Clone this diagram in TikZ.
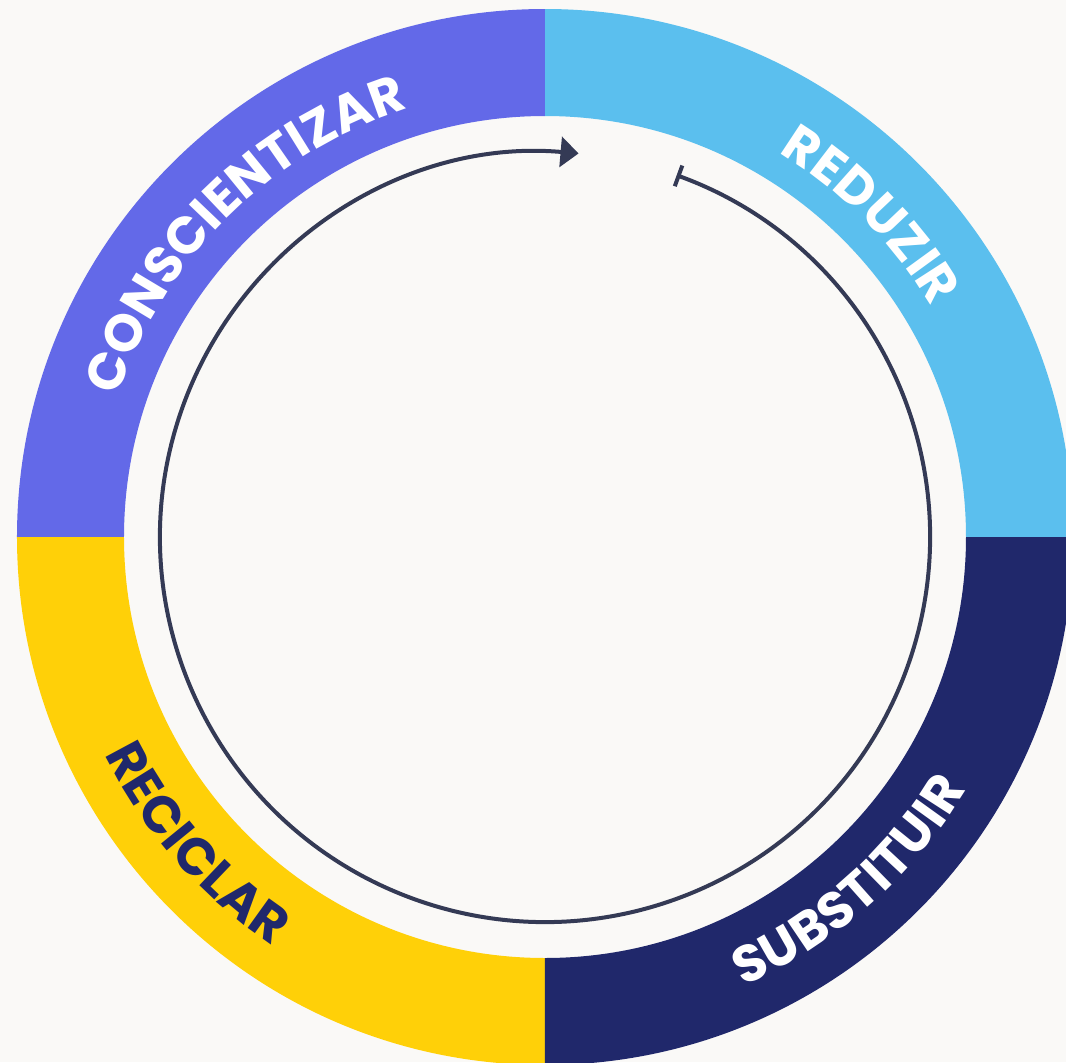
\documentclass[tikz,border=0pt]{standalone}
\usepackage{fontspec}
\newfontfamily\lab{Poppins}
\usetikzlibrary{arrows.meta}
\definecolor{bg}{HTML}{FAF9F7}
\definecolor{cpurple}{HTML}{6369E8}
\definecolor{cblue}{HTML}{5BBFEE}
\definecolor{cnavy}{HTML}{20286B}
\definecolor{cyellow}{HTML}{FFD008}
\definecolor{carrow}{HTML}{343A55}
\tikzset{
  cyclearrow/.style={carrow,line width=2pt,{Bar[width=11pt,line width=2pt]}-{Triangle[length=9pt,width=15pt]}},
  letter/.style={anchor=base,inner sep=0pt,outer sep=0pt,font=\lfont},
}
\newcommand{\lfont}{\lab\bfseries\fontsize{26}{26}\selectfont}
\newlength\lw
% measure the letters once, outside the picture
\AtBeginDocument{%
  \foreach \c in {A,B,C,D,E,I,L,N,O,R,S,T,U,Z}{%
    \settowidth\lw{\lfont\c}%
    \expandafter\xdef\csname lwd\c\endcsname{\the\lw}}}
\newcommand{\ringseg}[3]{%
  \fill[#3] (#1:528) arc[start angle=#1,end angle=#2,radius=528] -- (#2:421) arc[start angle=#2,end angle=#1,radius=421] -- cycle;}
% #1 centre angle, #2 baseline radius (units of 0.5pt), #3 direction (-1 clockwise, +1 counter-clockwise),
% #4 colour, #5 extra tracking (pt), #6 comma separated letters
\newcommand{\curvedword}[6]{%
  \gdef\cwtot{0}%
  \foreach \ch in {#6}{%
    \edef\cww{\csname lwd\ch\endcsname}%
    \pgfmathparse{\cwtot+\cww+#5}\xdef\cwtot{\pgfmathresult}}%
  \pgfmathparse{(#1)-(#3)*(\cwtot/2)/((#2)*0.5)*180/pi}\xdef\cwang{\pgfmathresult}%
  \foreach \ch in {#6}{%
    \edef\cww{\csname lwd\ch\endcsname}%
    \pgfmathparse{\cwang+(#3)*((\cww+#5)/2)/((#2)*0.5)*180/pi}\let\la\pgfmathresult
    \node[letter,text=#4,rotate=\la+(#3)*90] at (\la:#2) {\ch};
    \pgfmathparse{\cwang+(#3)*(\cww+#5)/((#2)*0.5)*180/pi}\xdef\cwang{\pgfmathresult}}%
}
\begin{document}
\begin{tikzpicture}[x=0.5pt,y=0.5pt]
\fill[bg] (-545,-525) rectangle (521,537);
\useasboundingbox (-545,-525) rectangle (521,537);
\clip (-545,-525) rectangle (521,537);
\ringseg{0}{90}{cblue}
\ringseg{90}{180}{cpurple}
\ringseg{180}{270}{cyellow}
\ringseg{270}{360}{cnavy}
% labels
\curvedword{134.75}{450}{-1}{white}{0.1}{C,O,N,S,C,I,E,N,T,I,Z,A,R}
\curvedword{44.7}{450}{-1}{white}{0.3}{R,E,D,U,Z,I,R}
\curvedword{-48.5}{491}{1}{white}{0.3}{S,U,B,S,T,I,T,U,I,R}
\curvedword{221.3}{491}{1}{cnavy}{0.3}{R,E,C,I,C,L,A,R}
% inner cycle arrow
\coordinate (astart) at (70:385);
\draw[cyclearrow] (astart) arc[start angle=70,end angle=-275,radius=385];
\end{tikzpicture}
\end{document}
